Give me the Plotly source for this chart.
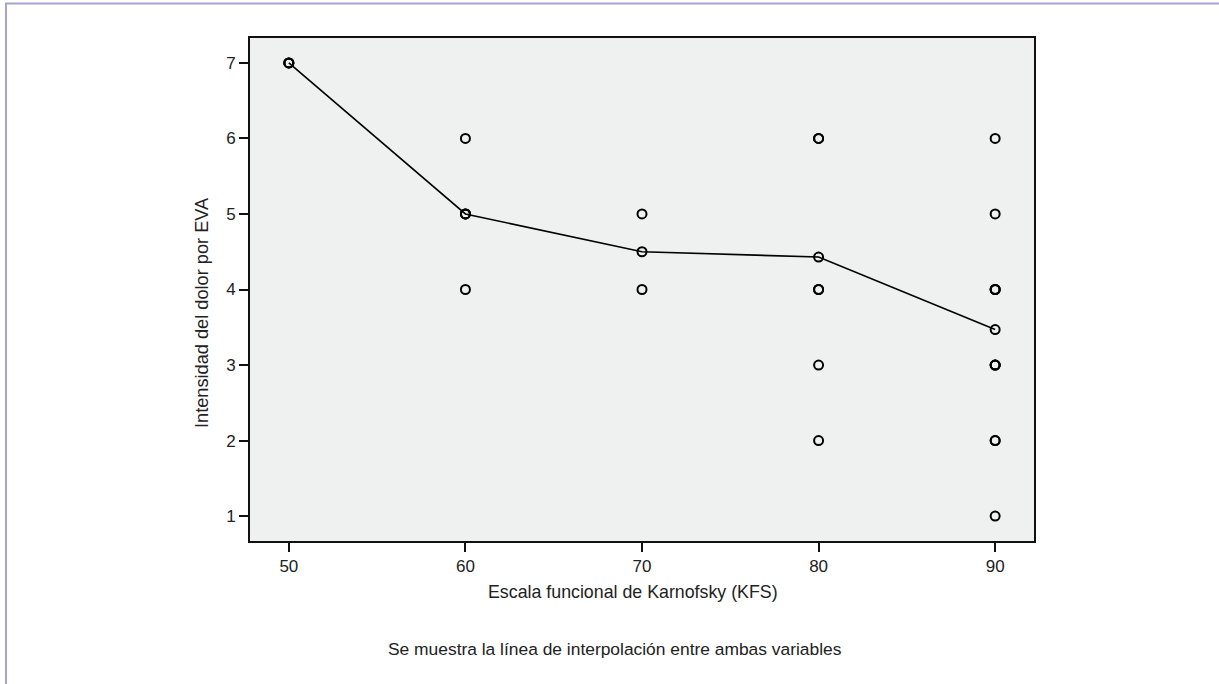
import plotly.graph_objects as go

# Data
kfs_points = [50, 50, 60, 60, 60, 60, 70, 70, 80, 80, 80, 80, 80, 80,
              90, 90, 90, 90, 90, 90, 90, 90, 90, 90, 90]
eva_points = [7, 7, 6, 5, 5, 4, 5, 4, 6, 6, 4, 4, 3, 2,
              6, 5, 4, 4, 3, 3, 2, 2, 1, 4, 3]
kfs_means = [50, 60, 70, 80, 90]
eva_means = [7.0, 5.0, 4.5, 4.43, 3.47]
x_ticks = [50, 60, 70, 80, 90]
y_ticks = [1, 2, 3, 4, 5, 6, 7]

W, H = 1219, 684
L, R, T, B = 250, 1034, 38, 541
pw, ph = R - L, B - T

def px_x(p):
    return (p - L) / pw

def px_y(p):
    return (B - p) / ph

fig = go.Figure()
fig.add_trace(go.Scatter(
    x=kfs_points, y=eva_points, mode="markers",
    marker=dict(symbol="circle-open", size=9, color="black", line=dict(width=2, color="black")),
    showlegend=False, hoverinfo="x+y"))
fig.add_trace(go.Scatter(
    x=kfs_means, y=eva_means, mode="lines+markers",
    line=dict(color="black", width=1.6),
    marker=dict(symbol="circle-open", size=9, color="black", line=dict(width=2, color="black")),
    showlegend=False))

fam = "Liberation Sans, Arial, sans-serif"
font = dict(family=fam, size=17, color="#222")
title_font = dict(family=fam, size=17.8, color="#222")
ytitle_font = dict(family=fam, size=18.2, color="#222")
cap_font = dict(family=fam, size=17.4, color="#222")

fig.update_layout(
    width=W, height=H,
    margin=dict(l=L, r=W - R, t=T, b=H - B),
    paper_bgcolor="white", plot_bgcolor="#eff1f0",
    font=font,
    xaxis=dict(range=[47.8, 92.2], tickvals=x_ticks, ticks="outside", ticklen=9, tickwidth=2,
               tickcolor="#111", showgrid=False, zeroline=False, showline=True, linecolor="#111",
               linewidth=2, mirror=True, tickfont=font),
    yaxis=dict(range=[0.67, 7.33], tickvals=y_ticks, ticks="outside", ticklen=9, tickwidth=2,
               tickcolor="#111", showgrid=False, zeroline=False, showline=True, linecolor="#111",
               linewidth=2, mirror=True, tickfont=font),
    annotations=[
        dict(text="Escala funcional de Karnofsky (KFS)", xref="paper", yref="paper",
             x=px_x(633), y=px_y(592), showarrow=False, font=title_font, xanchor="center", yanchor="middle"),
        dict(text="Intensidad del dolor por EVA", xref="paper", yref="paper",
             x=px_x(202), y=px_y(313), showarrow=False, font=ytitle_font, textangle=-90,
             xanchor="center", yanchor="middle"),
        dict(text="Se muestra la línea de interpolación entre ambas variables", xref="paper", yref="paper",
             x=px_x(615), y=px_y(649), showarrow=False, font=cap_font, xanchor="center", yanchor="middle"),
    ],
    shapes=[
        dict(type="line", xref="paper", yref="paper", x0=px_x(5), x1=px_x(W + 5), y0=px_y(3.5), y1=px_y(3.5),
             line=dict(color="#a7a3d2", width=2)),
        dict(type="line", xref="paper", yref="paper", x0=px_x(6), x1=px_x(6), y0=px_y(3), y1=px_y(H + 5),
             line=dict(color="#a7a3d2", width=2)),
    ],
)

fig.write_html("out.html", config={"displayModeBar": False},
               post_script="document.body.style.margin='0';document.body.style.overflow='hidden';")
